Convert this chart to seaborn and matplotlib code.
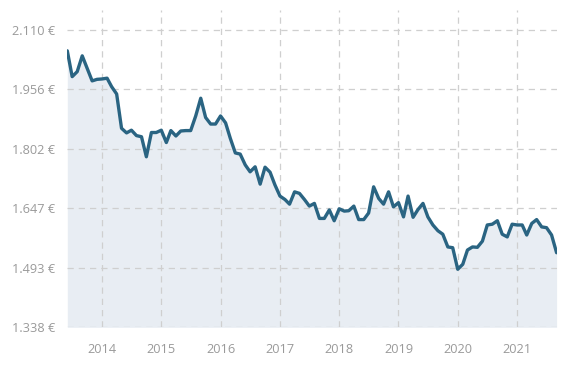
import numpy as np
import pandas as pd
import matplotlib
matplotlib.use("Agg")
import matplotlib.pyplot as plt
import seaborn as sns

# ---- data ----
start_month = "2013-06-01"
prices = [2056, 1989, 2002, 2043, 2011, 1978, 1982, 1983, 1985, 1963,
          1944, 1855, 1843, 1850, 1836, 1833, 1781, 1844, 1844, 1850,
          1818, 1849, 1835, 1848, 1849, 1849, 1887, 1933, 1883, 1866,
          1866, 1887, 1869, 1829, 1791, 1788, 1760, 1742, 1755, 1710,
          1754, 1741, 1708, 1679, 1670, 1658, 1690, 1686, 1670, 1653,
          1660, 1621, 1621, 1643, 1615, 1646, 1640, 1641, 1653, 1618,
          1618, 1635, 1703, 1673, 1658, 1690, 1651, 1662, 1625, 1679,
          1624, 1644, 1660, 1625, 1604, 1589, 1580, 1547, 1545, 1489,
          1502, 1539, 1547, 1546, 1562, 1604, 1606, 1615, 1580, 1573,
          1606, 1604, 1604, 1578, 1608, 1618, 1599, 1597, 1578, 1532]
y_ticks = [1338.4, 1492.8, 1647.2, 1801.6, 1956.0, 2110.4]
y_tick_labels = ["1.338 €", "1.493 €", "1.647 €", "1.802 €", "1.956 €", "2.110 €"]
x_tick_years = [2014, 2015, 2016, 2017, 2018, 2019, 2020, 2021]
x_tick_labels = ["2014", "2015", "2016", "2017", "2018", "2019", "2020", "2021"]

dates = pd.date_range(start_month, periods=len(prices), freq="MS")
df = pd.DataFrame({"date": dates, "price": prices})

sns.set_theme(style="white")
plt.rcParams["font.family"] = ["Open Sans", "DejaVu Sans"]

fig = plt.figure(figsize=(5.73, 3.68), dpi=100)
ax = fig.add_axes([67.3 / 573, 1 - 327.3 / 368, (556.6 - 67.3) / 573, (327.3 - 10) / 368])

line_color = "#2a6482"
fill_color = "#e8edf3"
y_bottom = 1338.4
y_top = 2162

ax.fill_between(df["date"], df["price"], y_bottom, color=fill_color, linewidth=0, zorder=1)
sns.lineplot(data=df, x="date", y="price", ax=ax, color=line_color, linewidth=2.4, zorder=3)

ax.set_xlim(df["date"].iloc[0], df["date"].iloc[-1])
ax.set_ylim(y_bottom, y_top)

xt = [pd.Timestamp(f"{y}-01-01") for y in x_tick_years]
ax.set_xticks(xt)
ax.set_xticklabels(x_tick_labels)
ax.set_yticks(y_ticks)
ax.set_yticklabels(y_tick_labels)

ax.grid(True, color="#cfcfcf", linestyle=(0, (5, 4)), linewidth=0.9, zorder=2)
ax.set_axisbelow(False)
for s in ax.spines.values():
    s.set_visible(False)

ax.tick_params(axis="both", length=0, labelsize=9.2, labelcolor="#9a9a9a")
ax.tick_params(axis="y", pad=9)
ax.tick_params(axis="x", pad=11)
ax.set_xlabel("")
ax.set_ylabel("")

fig.savefig("out.png", dpi=100, facecolor="white")
